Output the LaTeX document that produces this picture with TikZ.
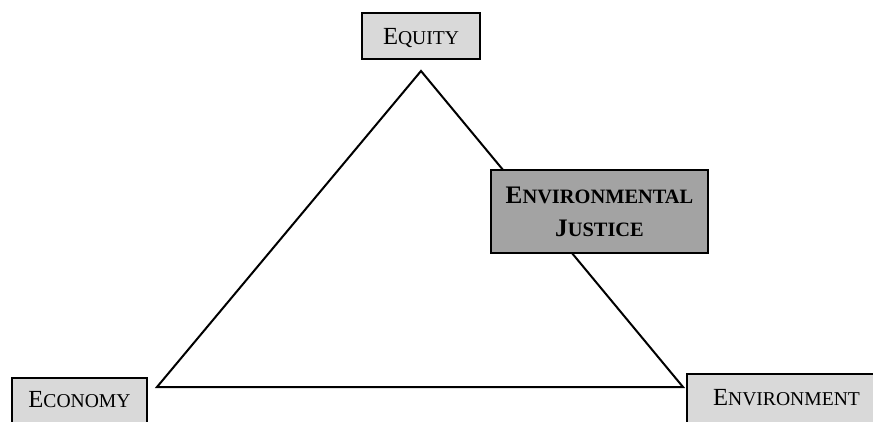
\documentclass[tikz,border=0pt]{standalone}
\usepackage{fontspec}
\setmainfont{Liberation Serif}
\usepackage{tikz}
\usepackage{xcolor}
\definecolor{lgray}{rgb}{0.85,0.85,0.85}
\definecolor{dgray}{rgb}{0.64,0.64,0.64}
\newcommand{\smcap}[2]{#1{\fontsize{9.8}{16.4}\selectfont #2}}
\newcommand{\boldcap}[2]{#1{\fontsize{10.2}{16.4}\selectfont #2}}
\tikzset{
  pillar/.style={draw=black, fill=lgray, line width=0.8pt, inner sep=0pt, anchor=north, font=\fontsize{12.3}{16.4}\selectfont},
  side/.style={black, line width=1pt}
}

\begin{document}
\begin{tikzpicture}[x=0.5pt, y=-0.5pt]
\useasboundingbox (0,0) rectangle (873,422);
\clip (0,0) rectangle (873,422);
% corners of the triangle
\coordinate (apex) at (421,71);
\coordinate (lcorner) at (157,387);
\coordinate (rcorner) at (683,387);
\draw[side] (lcorner) -- (apex) -- (rcorner) -- cycle;
% the three pillars
\node[pillar, minimum width=59pt, text height=16pt, text depth=7pt] (equity) at (421,12) {\smcap{E}{QUITY}};
\node[pillar, minimum width=67.5pt, text height=15pt, text depth=30pt] (economy) at (79.5,377) {\smcap{E}{CONOMY}};
\node[pillar, minimum width=99.5pt, text height=16pt, text depth=30pt] (environment) at (786.5,373) {\smcap{E}{NVIRONMENT}};
% the box on the right side
\node[pillar, fill=dgray, anchor=center, align=center, minimum width=108.5pt, minimum height=41.5pt, font=\bfseries\fontsize{12.6}{16.4}\selectfont] (justice) at (599.5,211.5) {\boldcap{E}{NVIRONMENTAL}\\\boldcap{J}{USTICE}};
\end{tikzpicture}
\end{document}
